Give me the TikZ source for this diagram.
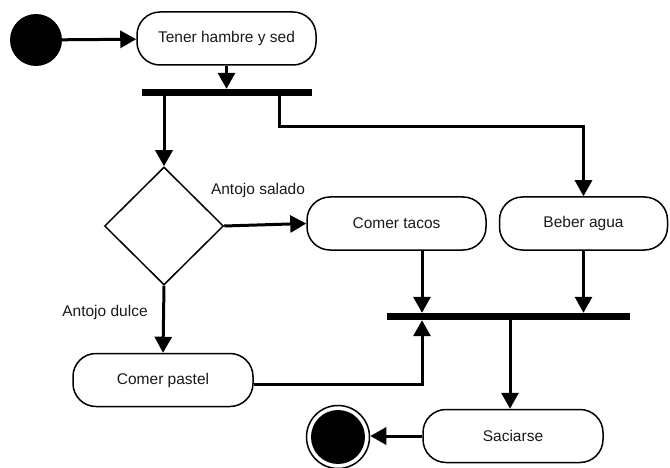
\documentclass[tikz,border=0pt]{standalone}
\usepackage{fontspec}
\setmainfont{Liberation Sans}
\usetikzlibrary{arrows.meta,shapes.geometric}
\definecolor{ink}{HTML}{1A1A1A}
\begin{document}
\begin{tikzpicture}[x=1pt,y=-1pt,
  action/.style={draw, fill=white, line width=1.5pt, rounded corners=23pt,
    minimum height=53pt, inner sep=0pt, text=ink,
    font=\fontsize{15.5}{18}\selectfont},
  bar/.style={fill=black, inner sep=0pt, minimum height=7pt},
  flow/.style={line width=3pt, -{Triangle[length=16pt,width=17pt]}},
  lbl/.style={font=\fontsize{15.5}{18}\selectfont, text=ink, inner sep=0pt}]
\useasboundingbox (0,0) rectangle (670,468);

% initial and final states
\node[circle, fill=black, minimum size=52pt, inner sep=0pt] (start) at (36,40) {};
\node[circle, draw, line width=1.5pt, minimum size=63pt, inner sep=0pt,
  path picture={\fill (path picture bounding box.center) circle (27pt);}] (end) at (338,437) {};

% actions
\node[action, minimum width=179pt] (tener) at (226.5,38.5) {Tener hambre y sed};
\node[action, minimum width=179pt] (tacos) at (396.5,223.5) {Comer tacos};
\node[action, minimum width=168pt] (beber) at (583.5,223.5) {Beber agua};
\node[action, minimum width=180pt] (pastel) at (163,380) {Comer pastel};
\node[action, minimum width=180pt] (sac) at (513,436) {Saciarse};

% decision
\node[diamond, draw, fill=white, line width=1.5pt, minimum width=119pt,
  minimum height=118pt, inner sep=0pt] (dec) at (164,226) {};

% fork and join bars
\node[bar, minimum width=170pt] (fork) at (227,92.5) {};
\node[bar, minimum width=243pt] (join) at (508.5,316.5) {};

% helper columns
\coordinate (bend) at (279,127);
\coordinate (jx) at (422,0);
\coordinate (ox) at (510,0);

% connectors
\draw[flow] (start) -- (tener);
\draw[flow] (tener) -- (tener |- fork.north);
\draw[flow] (dec |- fork.south) -- (dec.north);
\draw[flow] (bend |- fork.south) -- (bend) -| (beber.north);
\draw[flow] (dec.east) -- (tacos.west);
\draw[flow] (dec.south) -- (pastel.north);
\draw[flow] (tacos.south -| jx) -- (join.north -| jx);
\draw[flow] (beber.south) -- (beber.south |- join.north);
\draw[flow] ([yshift=-4pt]pastel.east) -| (join.south -| jx);
\draw[flow] (join.south -| ox) -- (sac.north -| ox);
\draw[flow] (sac.west) -- (sac.west -| end.east);

% guard labels
\node[lbl] (salado) at (258,190) {Antojo salado};
\node[lbl] (dulce) at (105,312) {Antojo dulce};
\end{tikzpicture}
\end{document}
